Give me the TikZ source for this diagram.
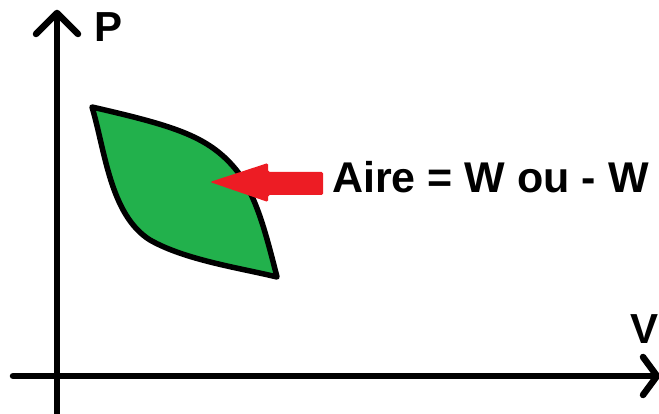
\documentclass[tikz,border=0pt]{standalone}
\usepackage{fontspec}
\setmainfont{Liberation Sans}
\begin{document}
\begin{tikzpicture}[x=1pt,y=-1pt,
  axis/.style={line width=6.5pt,line cap=round,line join=round},
  leaf/.style={line width=5.5pt,line join=round,fill=leafgreen},
  lbl/.style={inner sep=0pt,anchor=base west,font=\fontsize{42}{42}\selectfont\bfseries}]
\definecolor{leafgreen}{RGB}{34,177,76}
\definecolor{paintred}{RGB}{237,28,36}
\useasboundingbox (0,0) rectangle (659,414);
% axes
\coordinate (yb) at (57,416);
\coordinate (yt) at (57,13);
\coordinate (xl) at (13,376);
\coordinate (xr) at (657,376);
\draw[axis,line cap=butt] (yb) -- (yt);
\draw[axis] (36,34) -- (yt) -- (78,34);
\draw[axis] (xl) -- (xr);
\draw[axis] (643,357) -- (xr) -- (643,395);
% leaf
\coordinate (tl) at (92,107);
\coordinate (br) at (277,277);
\draw[leaf] (tl) .. controls (170,125) and (205,135) .. (232,165)
  .. controls (255,190) and (265,230) .. (br)
  .. controls (240,268) and (185,260) .. (150,240)
  .. controls (110,215) and (105,150) .. cycle;
% red arrow
\coordinate (tip) at (210,182);
\fill[paintred,rounded corners=1.5pt] (tip) -- (268,163) -- (268,172) -- (323,172) -- (323,195) -- (268,195) -- (268,202) -- cycle;
% labels
\node[lbl] (P) at (94,42) {P};
\node[lbl] (V) at (630,343) {V};
\node[lbl,font=\fontsize{43}{43}\selectfont\bfseries] (aire) at (332,193) {Aire = W ou - W};
\end{tikzpicture}
\end{document}
